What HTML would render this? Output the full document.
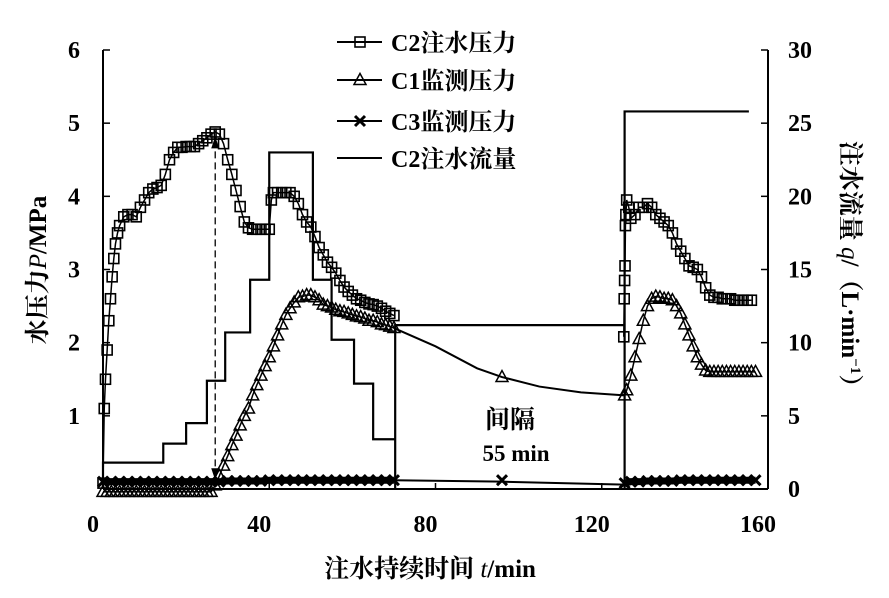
<!DOCTYPE html>
<html><head><meta charset="utf-8"><style>
body{margin:0;background:#fff;}
svg{display:block;font-family:"Liberation Serif","Noto Serif CJK SC","Noto Sans CJK SC",serif;}
</style></head><body>
<svg id="chart" width="889" height="598" viewBox="0 0 889 598"></svg>
<script>
const xTicks=[0,40,80,120,160];
const pTicks=[1,2,3,4,5,6];
const qTicks=[0,5,10,15,20,25,30];
const c2PressureA=[[0,0.08],[0.3,1.1],[0.6,1.5],[1,1.9],[1.4,2.3],[1.8,2.6],[2.2,2.9],[2.6,3.15],[3,3.35],[3.5,3.5],[4,3.6],[5,3.72],[6,3.75],[7,3.75],[8,3.72],[9,3.85],[10,3.95],[11,4.05],[12,4.1],[13,4.12],[14,4.15],[15,4.3],[16,4.5],[17,4.6],[18,4.67],[19,4.67],[20,4.68],[21,4.68],[22,4.68],[23,4.72],[24,4.76],[25,4.8],[26,4.85],[27,4.88],[28,4.85],[29,4.72],[30,4.5],[31,4.3],[32,4.08],[33,3.86],[34,3.65],[35,3.57],[36,3.55],[37,3.55],[38,3.55],[39,3.55],[40,3.55],[40.5,3.95],[41,4.05],[42,4.05],[43,4.05],[44,4.05],[45,4.05],[46,4.0],[47,3.9],[48,3.75],[49,3.65],[50,3.58],[51,3.45],[52,3.3],[53,3.2],[54,3.1],[55,3.03],[56,2.95],[57,2.85],[58,2.76],[59,2.7],[60,2.65],[61,2.6],[62,2.58],[63,2.55],[64,2.53],[65,2.52],[66,2.5],[67,2.47],[68,2.43],[69,2.4],[70,2.37]];
const c2PressureB=[[125.3,2.08],[125.4,2.6],[125.5,2.85],[125.6,3.05],[125.7,3.6],[125.8,3.75],[126,3.95],[126.5,3.85],[127,3.7],[128,3.75],[129,3.85],[130,3.85],[131,3.9],[132,3.85],[133,3.75],[134,3.7],[135,3.65],[136,3.6],[137,3.5],[138,3.35],[139,3.25],[140,3.15],[141,3.05],[142,3.03],[143,3.0],[144,2.9],[145,2.75],[146,2.65],[147,2.62],[148,2.62],[149,2.6],[150,2.6],[151,2.6],[152,2.58],[153,2.58],[154,2.58],[155,2.58],[156,2.58]];
const c1PressureA=[[0,-0.04],[1,-0.04],[2,-0.04],[3,-0.04],[4,-0.04],[5,-0.04],[6,-0.04],[7,-0.04],[8,-0.04],[9,-0.04],[10,-0.04],[11,-0.04],[12,-0.04],[13,-0.04],[14,-0.04],[15,-0.04],[16,-0.04],[17,-0.04],[18,-0.04],[19,-0.04],[20,-0.04],[21,-0.04],[22,-0.04],[23,-0.04],[24,-0.04],[25,-0.04],[26,-0.04],[27,0.05],[28,0.18],[29,0.32],[30,0.45],[31,0.6],[32,0.73],[33,0.87],[34,1.0],[35,1.1],[36,1.28],[37,1.42],[38,1.55],[39,1.68],[40,1.8],[41,1.95],[42,2.1],[43,2.25],[44,2.38],[45,2.47],[46,2.55],[47,2.62],[48,2.63],[49,2.65],[50,2.65],[51,2.62],[52,2.58],[53,2.52],[54,2.5],[55,2.48],[56,2.45],[57,2.43],[58,2.42],[59,2.4],[60,2.38],[61,2.36],[62,2.35],[63,2.33],[64,2.3],[65,2.3],[66,2.28],[67,2.25],[68,2.24],[69,2.22],[70,2.2]];
const c1Interval=[[70,2.2],[80,1.95],[90,1.65],[96,1.53],[105,1.4],[115,1.32],[125.5,1.28]];
const c1IntervalMarker=[[96,1.53]];
const c1PressureB=[[125.5,1.28],[126,1.35],[127,1.55],[128,1.8],[129,2.05],[130,2.3],[131,2.5],[132,2.6],[133,2.63],[134,2.62],[135,2.6],[136,2.6],[137,2.58],[138,2.5],[139,2.4],[140,2.25],[141,2.1],[142,1.95],[143,1.8],[144,1.7],[145,1.62],[146,1.6],[147,1.6],[148,1.6],[149,1.6],[150,1.6],[151,1.6],[152,1.6],[153,1.6],[154,1.6],[155,1.6],[156,1.6],[157,1.6]];
const c3PressureA=[[0,0.1],[2,0.1],[4,0.1],[6,0.1],[8,0.1],[10,0.1],[12,0.1],[14,0.1],[16,0.1],[18,0.1],[20,0.1],[22,0.1],[24,0.1],[26,0.1],[28,0.1],[30,0.11],[32,0.11],[34,0.11],[36,0.11],[38,0.11],[40,0.12],[42,0.12],[44,0.12],[46,0.12],[48,0.12],[50,0.12],[52,0.12],[54,0.12],[56,0.12],[58,0.12],[60,0.12],[62,0.12],[64,0.12],[66,0.12],[68,0.12],[70,0.12]];
const c3Interval=[[70,0.12],[96,0.1],[125.5,0.06]];
const c3IntervalMarker=[[96,0.12]];
const c3PressureB=[[125.5,0.08],[127,0.1],[129,0.1],[131,0.11],[133,0.11],[135,0.11],[137,0.11],[139,0.12],[141,0.12],[143,0.12],[145,0.12],[147,0.12],[149,0.12],[151,0.12],[153,0.12],[155,0.12],[157,0.12]];
const flowSteps=[[0,0],[0,1.8],[14.5,1.8],[14.5,3.1],[20,3.1],[20,4.5],[25,4.5],[25,7.4],[29.4,7.4],[29.4,10.7],[35.4,10.7],[35.4,14.3],[40,14.3],[40,23.0],[50.5,23.0],[50.5,14.3],[55,14.3],[55,10.2],[60.4,10.2],[60.4,7.2],[65,7.2],[65,3.4],[70.3,3.4],[70.3,0],[70.3,11.2],[125.5,11.2],[125.5,0],[125.5,25.8],[155.4,25.8]];

const NS='http://www.w3.org/2000/svg';
const svg=document.getElementById('chart');
const X0=103,X1=768,Y0=489,Y1=50;
const sx=t=>X0+(t-0)*(X1-X0)/160;
const sp=p=>Y0-p*(Y0-Y1)/6;
const sq=q=>Y0-q*(Y0-Y1)/30;
function mk(tag,attrs,parent){const e=document.createElementNS(NS,tag);for(const k in attrs)e.setAttribute(k,attrs[k]);(parent||svg).appendChild(e);return e;}
function g(name){const e=mk('g',{});return e;}
function poly(pts,fy,parent,w){return mk('polyline',{points:pts.map(d=>sx(d[0])+','+fy(d[1])).join(' '),fill:'none',stroke:'#000','stroke-width':w||2},parent);}
function square(x,y,parent){return mk('rect',{x:x-5,y:y-5,width:10,height:10,fill:'none',stroke:'#000','stroke-width':1.6},parent);}
function tri(x,y,parent){return mk('path',{d:`M${x},${y-6.5}L${x+6},${y+4.5}L${x-6},${y+4.5}Z`,fill:'none',stroke:'#000','stroke-width':1.5},parent);}
function cross(x,y,parent){return mk('path',{d:`M${x-5},${y-5}L${x+5},${y+5}M${x+5},${y-5}L${x-5},${y+5}`,stroke:'#000','stroke-width':3},parent);}

const ax=g('axes');
mk('line',{x1:X0,y1:Y1,x2:X0,y2:Y0,stroke:'#000','stroke-width':2},ax);
mk('line',{x1:X1,y1:Y1,x2:X1,y2:Y0,stroke:'#000','stroke-width':2},ax);
mk('line',{x1:X0,y1:Y0,x2:X1,y2:Y0,stroke:'#000','stroke-width':2},ax);
xTicks.forEach(v=>{const x=sx(v);mk('line',{x1:x,y1:Y0,x2:x,y2:Y0-6,stroke:'#000','stroke-width':1.5},ax);
 const t=mk('text',{x:x-10,y:532,'text-anchor':'middle','font-size':24,'font-weight':'bold'},ax);t.textContent=v;
 });
pTicks.forEach(v=>{const y=sp(v);mk('line',{x1:X0,y1:y,x2:X0+7,y2:y,stroke:'#000','stroke-width':1.5},ax);
 const t=mk('text',{x:80,y:y+8,'text-anchor':'end','font-size':24,'font-weight':'bold'},ax);t.textContent=v;
 });
qTicks.forEach(v=>{const y=sq(v);mk('line',{x1:X1,y1:y,x2:X1-7,y2:y,stroke:'#000','stroke-width':1.5},ax);
 const t=mk('text',{x:788,y:y+8,'text-anchor':'start','font-size':24,'font-weight':'bold'},ax);t.textContent=v;
 });

const gf=g('c2-flow-series');poly(flowSteps,sq,gf,2.2);
const g3=g('c3-pressure-series');
poly(c3PressureA,sp,g3,7);c3PressureA.forEach(d=>cross(sx(d[0]),sp(d[1]),g3));
poly(c3Interval,sp,g3,2);c3IntervalMarker.forEach(d=>cross(sx(d[0]),sp(d[1]),g3));
poly(c3PressureB,sp,g3,7);c3PressureB.forEach(d=>cross(sx(d[0]),sp(d[1]),g3));
const g1=g('c1-pressure-series');
poly(c1PressureA,sp,g1,1.5);c1PressureA.forEach(d=>tri(sx(d[0]),sp(d[1]),g1));
poly(c1Interval,sp,g1,2);c1IntervalMarker.forEach(d=>tri(sx(d[0]),sp(d[1]),g1));
poly(c1PressureB,sp,g1,1.5);c1PressureB.forEach(d=>tri(sx(d[0]),sp(d[1]),g1));
const g2=g('c2-pressure-series');
poly(c2PressureA,sp,g2,1.5);c2PressureA.forEach(d=>square(sx(d[0]),sp(d[1]),g2));
poly(c2PressureB,sp,g2,1.5);c2PressureB.forEach(d=>square(sx(d[0]),sp(d[1]),g2));

const ga=g('pressure-difference-arrow');
const axX=sx(27);
mk('line',{x1:axX,y1:sp(4.82)+4,x2:axX,y2:sp(0.12)-4,stroke:'#000','stroke-width':1.3,'stroke-dasharray':'7,4'},ga);
mk('path',{d:`M${axX},${sp(4.82)}l-4,12l8,0z`,fill:'#000'},ga);
mk('path',{d:`M${axX},${sp(0.12)}l-4,-12l8,0z`,fill:'#000'},ga);

const an=g('interval-annotation');
let t=mk('text',{x:510,y:428,'text-anchor':'middle','font-size':25,'font-weight':'bold','font-family':'"Noto Serif CJK SC","Noto Sans CJK SC",serif'},an);t.textContent='间隔';
t=mk('text',{x:516,y:461,'text-anchor':'middle','font-size':23,'font-weight':'bold'},an);t.textContent='55 min';

const lg=g('legend');
const rows=[['C2注水压力','sq',42],['C1监测压力','tri',80],['C3监测压力','x',121],['C2注水流量','none',158]];
rows.forEach(r=>{const e=mk('g',{},lg);
 mk('line',{x1:337,y1:r[2],x2:382,y2:r[2],stroke:'#000','stroke-width':2},e);
 if(r[1]==='sq')square(360,r[2],e);if(r[1]==='tri')tri(360,r[2],e);if(r[1]==='x')cross(360,r[2],e);
 const tx=mk('text',{x:391,y:r[2]+9,'font-size':24,'font-weight':'bold'},e);tx.textContent=r[0];});

t=mk('text',{x:430,y:577,'text-anchor':'middle','font-size':25,'font-weight':'bold'});t.innerHTML='注水持续时间 <tspan font-style="italic" font-weight="normal">t</tspan>/min';

t=mk('text',{x:0,y:0,'text-anchor':'middle','font-size':25,'font-weight':'bold',transform:'translate(46,270) rotate(-90)'});t.innerHTML='水压力<tspan font-style="italic" font-weight="normal">P</tspan>/MPa';

t=mk('text',{x:0,y:0,'text-anchor':'middle','font-size':25,'font-weight':'bold',transform:'translate(842,270) rotate(90)'});t.innerHTML='注水流量 <tspan font-style="italic" font-weight="normal">q</tspan>/（L·min<tspan dy="-9" font-size="15">−1</tspan><tspan dy="9">）</tspan>';

</script>
</body></html>
